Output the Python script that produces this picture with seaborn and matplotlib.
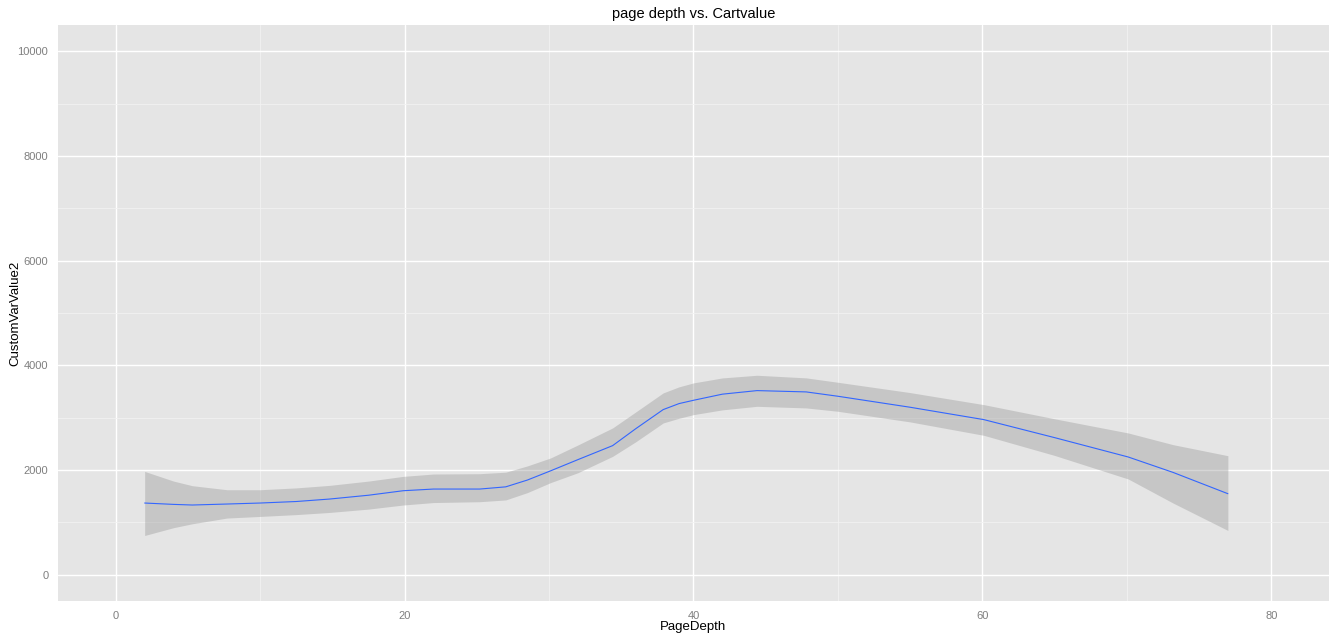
import numpy as np
import pandas as pd
import matplotlib
matplotlib.use("Agg")
import matplotlib.pyplot as plt
import seaborn as sns

# smoothed curve (loess fit with 95% band)
page_depth = [2, 4, 5.3, 7.7, 10, 12.5, 14.8, 17.5, 19.9, 22, 25.2, 27, 28.5, 30.1, 32,
              34.4, 36, 37.9, 39, 40, 42, 44.4, 47.8, 50, 55, 60.1, 65, 70.1, 73.2, 77]
fit = [1371, 1345, 1333, 1352, 1371, 1400, 1447, 1520, 1606, 1638, 1638, 1680, 1810, 1985, 2200,
       2467, 2790, 3155, 3270, 3333, 3450, 3518, 3493, 3410, 3200, 2964, 2620, 2250, 1956, 1549]
upper = [1975, 1790, 1702, 1625, 1625, 1660, 1708, 1790, 1880, 1925, 1931, 1960, 2080, 2231, 2480,
         2805, 3110, 3474, 3590, 3665, 3760, 3811, 3761, 3677, 3480, 3250, 2980, 2709, 2486, 2275]
lower = [751, 900, 975, 1084, 1115, 1150, 1191, 1255, 1333, 1380, 1396, 1430, 1570, 1760, 1950,
         2262, 2540, 2900, 2990, 3059, 3150, 3218, 3187, 3123, 2920, 2664, 2280, 1830, 1371, 847]

df = pd.DataFrame({"PageDepth": page_depth, "CustomVarValue2": fit,
                   "upper": upper, "lower": lower})

sns.set_style("darkgrid", {"axes.facecolor": "#E5E5E5", "grid.color": "white"})
plt.rcParams["font.family"] = ["Liberation Sans", "DejaVu Sans"]

fig = plt.figure(figsize=(13.41, 6.36), dpi=100)
ax = fig.add_axes([0.04325, 0.05503, 0.9478, 0.90567])

ax.fill_between(df["PageDepth"], df["lower"], df["upper"],
                color="#999999", alpha=0.4, linewidth=0, zorder=2)
sns.lineplot(data=df, x="PageDepth", y="CustomVarValue2", color="#3366FF",
             linewidth=0.8, ax=ax, zorder=3)

ax.set_xlim(-4, 84)
ax.set_ylim(-500, 10500)
ax.set_xticks([0, 20, 40, 60, 80])
ax.set_yticks([0, 2000, 4000, 6000, 8000, 10000])
ax.set_xticks([10, 30, 50, 70], minor=True)
ax.set_yticks([1000, 3000, 5000, 7000, 9000], minor=True)
ax.grid(which="major", color="white", linewidth=1.0)
ax.grid(which="minor", color="#F2F2F2", linewidth=0.6)
ax.set_axisbelow(True)
for s in ax.spines.values():
    s.set_visible(False)

ax.tick_params(axis="both", which="major", length=4, width=0.8, color="#7F7F7F",
               labelcolor="#7F7F7F", labelsize=8, pad=3)
ax.tick_params(axis="both", which="minor", length=0)

ax.set_xlabel("PageDepth", fontsize=9.5, color="black")
ax.set_ylabel("CustomVarValue2", fontsize=9.5, color="black")
ax.xaxis.set_label_coords(0.5, -0.034)
ax.yaxis.set_label_coords(-0.0285, 0.5)
ax.set_title("page depth vs. Cartvalue", fontsize=10.5, color="black", pad=5)

fig.savefig("out.png", dpi=100)
